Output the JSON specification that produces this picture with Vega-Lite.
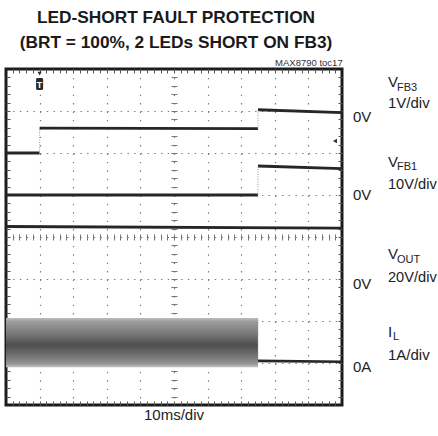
{
  "$schema": "https://vega.github.io/schema/vega-lite/v6.json",
  "width": 336,
  "height": 336,
  "autosize": {"type": "none"},
  "padding": {"left": 6, "top": 69, "right": 96, "bottom": 31},
  "background": "white",
  "config": {"view": {"stroke": "#1c1c1c", "strokeWidth": 3}, "font": "Liberation Sans"},
  "data": {"values": [{"note": "annotation anchor"}]},
  "datasets": {
    "traces": [
      {"series": "VFB3", "seg": "VFB3a", "t": 0, "v": 6.0},
      {"series": "VFB3", "seg": "VFB3a", "t": 10, "v": 6.0},
      {"series": "VFB3", "seg": "VFB3b", "t": 10, "v": 6.59},
      {"series": "VFB3", "seg": "VFB3b", "t": 75, "v": 6.58},
      {"series": "VFB3", "seg": "VFB3c", "t": 75, "v": 7.03},
      {"series": "VFB3", "seg": "VFB3c", "t": 100, "v": 6.96},
      {"series": "VFB1", "seg": "VFB1a", "t": 0, "v": 5.0},
      {"series": "VFB1", "seg": "VFB1a", "t": 75, "v": 5.0},
      {"series": "VFB1", "seg": "VFB1b", "t": 75, "v": 5.69},
      {"series": "VFB1", "seg": "VFB1b", "t": 100, "v": 5.63},
      {"series": "VOUT", "seg": "VOUTa", "t": 0, "v": 4.25},
      {"series": "VOUT", "seg": "VOUTa", "t": 100, "v": 4.21}
    ],
    "ilAfter": [
      {"series": "IL", "t": 75, "v": 1.05},
      {"series": "IL", "t": 100, "v": 1.03}
    ],
    "ilBand": [
      {"series": "IL", "t0": 0, "t1": 75, "lo": 0.9, "hi": 2.07}
    ],
    "steps": [
      {"series": "VFB3", "t": 10, "from": 6.0, "to": 6.59},
      {"series": "VFB3", "t": 75, "from": 6.58, "to": 7.03},
      {"series": "VFB1", "t": 75, "from": 5.0, "to": 5.69},
      {"series": "IL", "t": 75, "from": 1.05, "to": 2.07}
    ]
  },
  "resolve": {"axis": {"x": "independent", "y": "independent"}},
  "layer": [
    {
      "data": {"name": "traces"},
      "mark": {"type": "line", "stroke": "#262626", "strokeWidth": 2.8},
      "encoding": {
        "x": {"field": "t", "type": "quantitative", "scale": {"domain": [0, 100], "nice": false, "zero": false},
          "axis": {"orient": "bottom", "grid": true, "values": [10, 20, 30, 40, 50, 60, 70, 80, 90], "gridDash": [1.4, 7], "gridColor": "#7a7a7a", "gridWidth": 1.2, "ticks": false, "labels": false, "domain": false, "title": null}},
        "y": {"field": "v", "type": "quantitative", "scale": {"domain": [0, 8], "nice": false, "zero": false},
          "axis": {"orient": "left", "grid": true, "values": [1, 2, 3, 4, 5, 6, 7], "gridDash": [1.4, 5.32], "gridColor": "#7a7a7a", "gridWidth": 1.2, "ticks": false, "labels": false, "domain": false, "title": null}},
        "detail": {"field": "seg"}
      }
    },
    {
      "data": {"name": "ilBand"},
      "mark": {"type": "rect", "color": {"gradient": "linear", "x1": 0, "y1": 0, "x2": 0, "y2": 1, "stops": [
        {"offset": 0, "color": "#bdbdbd"}, {"offset": 0.08, "color": "#9a9a9a"}, {"offset": 0.3, "color": "#7c7c7c"},
        {"offset": 0.55, "color": "#4e4e4e"}, {"offset": 0.78, "color": "#747474"}, {"offset": 0.93, "color": "#959595"}, {"offset": 1, "color": "#c2c2c2"}]}},
      "encoding": {
        "x": {"field": "t0", "type": "quantitative", "scale": {"domain": [0, 100], "nice": false, "zero": false},
          "axis": {"orient": "bottom", "values": [2,4,6,8,10,12,14,16,18,20,22,24,26,28,30,32,34,36,38,40,42,44,46,48,50,52,54,56,58,60,62,64,66,68,70,72,74,76,78,80,82,84,86,88,90,92,94,96,98], "tickSize": -4, "tickColor": "#555", "labels": false, "domain": false, "grid": false, "title": null}},
        "x2": {"field": "t1"},
        "y": {"field": "lo", "type": "quantitative", "scale": {"domain": [0, 8], "nice": false, "zero": false},
          "axis": {"orient": "left", "values": [0.2,0.4,0.6,0.8,1,1.2,1.4,1.6,1.8,2,2.2,2.4,2.6,2.8,3,3.2,3.4,3.6,3.8,4,4.2,4.4,4.6,4.8,5,5.2,5.4,5.6,5.8,6,6.2,6.4,6.6,6.8,7,7.2,7.4,7.6,7.8], "tickSize": -4, "tickColor": "#555", "labels": false, "domain": false, "grid": false, "title": null}},
        "y2": {"field": "hi"}
      }
    },
    {
      "data": {"name": "steps"},
      "mark": {"type": "rule", "stroke": "#9a9a9a", "strokeWidth": 1, "strokeDash": [1, 1.5]},
      "encoding": {
        "x": {"field": "t", "type": "quantitative", "scale": {"domain": [0, 100], "nice": false, "zero": false},
          "axis": {"orient": "top", "values": [2,4,6,8,10,12,14,16,18,20,22,24,26,28,30,32,34,36,38,40,42,44,46,48,50,52,54,56,58,60,62,64,66,68,70,72,74,76,78,80,82,84,86,88,90,92,94,96,98], "tickSize": -4, "tickColor": "#555", "labels": false, "domain": false, "grid": false, "title": null}},
        "y": {"field": "from", "type": "quantitative", "scale": {"domain": [0, 8], "nice": false, "zero": false},
          "axis": {"orient": "right", "values": [0.2,0.4,0.6,0.8,1,1.2,1.4,1.6,1.8,2,2.2,2.4,2.6,2.8,3,3.2,3.4,3.6,3.8,4,4.2,4.4,4.6,4.8,5,5.2,5.4,5.6,5.8,6,6.2,6.4,6.6,6.8,7,7.2,7.4,7.6,7.8], "tickSize": -4, "tickColor": "#555", "labels": false, "domain": false, "grid": false, "title": null}},
        "y2": {"field": "to"}
      }
    },
    {
      "data": {"name": "ilAfter"},
      "mark": {"type": "line", "stroke": "#262626", "strokeWidth": 2.6},
      "encoding": {
        "x": {"field": "t", "type": "quantitative", "scale": {"domain": [0, 100], "nice": false, "zero": false},
          "axis": {"orient": "bottom", "offset": -171, "values": [2,4,6,8,10,12,14,16,18,20,22,24,26,28,30,32,34,36,38,40,42,44,46,48,50,52,54,56,58,60,62,64,66,68,70,72,74,76,78,80,82,84,86,88,90,92,94,96,98], "tickSize": 6, "tickColor": "#777", "labels": false, "domain": false, "grid": false, "title": null}},
        "y": {"field": "v", "type": "quantitative", "scale": {"domain": [0, 8], "nice": false, "zero": false},
          "axis": {"orient": "left", "offset": -171, "values": [0.2,0.4,0.6,0.8,1,1.2,1.4,1.6,1.8,2,2.2,2.4,2.6,2.8,3,3.2,3.4,3.6,3.8,4,4.2,4.4,4.6,4.8,5,5.2,5.4,5.6,5.8,6,6.2,6.4,6.6,6.8,7,7.2,7.4,7.6,7.8], "tickSize": 6, "tickColor": "#777", "labels": false, "domain": false, "grid": false, "title": null}}
      }
    },
    {
      "mark": {"type": "point", "shape": "triangle-down", "filled": true, "size": 18, "color": "#333", "opacity": 1},
      "encoding": {
        "x": {"datum": 10, "type": "quantitative", "scale": {"domain": [0, 100], "nice": false, "zero": false}, "axis": null},
        "y": {"datum": 7.89, "type": "quantitative", "scale": {"domain": [0, 8], "nice": false, "zero": false}, "axis": null}
      }
    },
    {
      "mark": {"type": "rect", "color": "#2a2a2a", "cornerRadius": 1.5},
      "encoding": {
        "x": {"datum": 8.95, "type": "quantitative", "scale": {"domain": [0, 100], "nice": false, "zero": false}, "axis": null},
        "x2": {"datum": 11.05},
        "y": {"datum": 7.5, "type": "quantitative", "scale": {"domain": [0, 8], "nice": false, "zero": false}, "axis": null},
        "y2": {"datum": 7.786}
      }
    },
    {
      "mark": {"type": "text", "align": "center", "baseline": "alphabetic", "fontSize": 9, "fontWeight": "bold", "fill": "white"},
      "encoding": {
        "x": {"datum": 10, "type": "quantitative", "scale": {"domain": [0, 100], "nice": false, "zero": false}, "axis": null},
        "y": {"datum": 7.55, "type": "quantitative", "scale": {"domain": [0, 8], "nice": false, "zero": false}, "axis": null},
        "text": {"value": "T"}
      }
    },
    {
      "mark": {"type": "point", "shape": "triangle-left", "filled": true, "size": 22, "color": "#333", "opacity": 1},
      "encoding": {
        "x": {"datum": 97.9, "type": "quantitative", "scale": {"domain": [0, 100], "nice": false, "zero": false}, "axis": null},
        "y": {"datum": 6.286, "type": "quantitative", "scale": {"domain": [0, 8], "nice": false, "zero": false}, "axis": null}
      }
    },
    {
      "mark": {"type": "text", "align": "center", "baseline": "alphabetic", "fontSize": 17.3, "fontWeight": "bold", "fill": "#1a1a1a"},
      "encoding": {
        "x": {"datum": 50.6, "type": "quantitative", "scale": {"domain": [0, 100], "nice": false, "zero": false}, "axis": null},
        "y": {"datum": 9.095, "type": "quantitative", "scale": {"domain": [0, 8], "nice": false, "zero": false}, "axis": null},
        "text": {"value": "LED-SHORT FAULT PROTECTION"}
      }
    },
    {
      "mark": {"type": "text", "align": "center", "baseline": "alphabetic", "fontSize": 17.3, "fontWeight": "bold", "fill": "#1a1a1a"},
      "encoding": {
        "x": {"datum": 50.6, "type": "quantitative", "scale": {"domain": [0, 100], "nice": false, "zero": false}, "axis": null},
        "y": {"datum": 8.5, "type": "quantitative", "scale": {"domain": [0, 8], "nice": false, "zero": false}, "axis": null},
        "text": {"value": "(BRT = 100%, 2 LEDs SHORT ON FB3)"}
      }
    },
    {
      "mark": {"type": "text", "align": "right", "baseline": "alphabetic", "fontSize": 9.5, "fill": "#333"},
      "encoding": {
        "x": {"datum": 100.2, "type": "quantitative", "scale": {"domain": [0, 100], "nice": false, "zero": false}, "axis": null},
        "y": {"datum": 8.083, "type": "quantitative", "scale": {"domain": [0, 8], "nice": false, "zero": false}, "axis": null},
        "text": {"value": "MAX8790 toc17"}
      }
    },
    {
      "mark": {"type": "text", "align": "center", "baseline": "alphabetic", "fontSize": 15, "fill": "#222"},
      "encoding": {
        "x": {"datum": 50, "type": "quantitative", "scale": {"domain": [0, 100], "nice": false, "zero": false}, "axis": null},
        "y": {"datum": -0.357, "type": "quantitative", "scale": {"domain": [0, 8], "nice": false, "zero": false}, "axis": null},
        "text": {"value": "10ms/div"}
      }
    },
    {
      "mark": {"type": "text", "align": "left", "baseline": "alphabetic", "fontSize": 15, "fill": "#222"},
      "encoding": {
        "x": {"datum": 113.69, "type": "quantitative", "scale": {"domain": [0, 100], "nice": false, "zero": false}, "axis": null},
        "y": {"datum": 7.571, "type": "quantitative", "scale": {"domain": [0, 8], "nice": false, "zero": false}, "axis": null},
        "text": {"value": "V"}
      }
    },
    {
      "mark": {"type": "text", "align": "left", "baseline": "alphabetic", "fontSize": 11, "fill": "#222"},
      "encoding": {
        "x": {"datum": 116.37, "type": "quantitative", "scale": {"domain": [0, 100], "nice": false, "zero": false}, "axis": null},
        "y": {"datum": 7.476, "type": "quantitative", "scale": {"domain": [0, 8], "nice": false, "zero": false}, "axis": null},
        "text": {"value": "FB3"}
      }
    },
    {
      "mark": {"type": "text", "align": "left", "baseline": "alphabetic", "fontSize": 15, "fill": "#222"},
      "encoding": {
        "x": {"datum": 113.69, "type": "quantitative", "scale": {"domain": [0, 100], "nice": false, "zero": false}, "axis": null},
        "y": {"datum": 7.071, "type": "quantitative", "scale": {"domain": [0, 8], "nice": false, "zero": false}, "axis": null},
        "text": {"value": "1V/div"}
      }
    },
    {
      "mark": {"type": "text", "align": "left", "baseline": "alphabetic", "fontSize": 15, "fill": "#222"},
      "encoding": {
        "x": {"datum": 103.27, "type": "quantitative", "scale": {"domain": [0, 100], "nice": false, "zero": false}, "axis": null},
        "y": {"datum": 6.738, "type": "quantitative", "scale": {"domain": [0, 8], "nice": false, "zero": false}, "axis": null},
        "text": {"value": "0V"}
      }
    },
    {
      "mark": {"type": "text", "align": "left", "baseline": "alphabetic", "fontSize": 15, "fill": "#222"},
      "encoding": {
        "x": {"datum": 113.69, "type": "quantitative", "scale": {"domain": [0, 100], "nice": false, "zero": false}, "axis": null},
        "y": {"datum": 5.667, "type": "quantitative", "scale": {"domain": [0, 8], "nice": false, "zero": false}, "axis": null},
        "text": {"value": "V"}
      }
    },
    {
      "mark": {"type": "text", "align": "left", "baseline": "alphabetic", "fontSize": 11, "fill": "#222"},
      "encoding": {
        "x": {"datum": 116.37, "type": "quantitative", "scale": {"domain": [0, 100], "nice": false, "zero": false}, "axis": null},
        "y": {"datum": 5.595, "type": "quantitative", "scale": {"domain": [0, 8], "nice": false, "zero": false}, "axis": null},
        "text": {"value": "FB1"}
      }
    },
    {
      "mark": {"type": "text", "align": "left", "baseline": "alphabetic", "fontSize": 14.6, "fill": "#222"},
      "encoding": {
        "x": {"datum": 113.69, "type": "quantitative", "scale": {"domain": [0, 100], "nice": false, "zero": false}, "axis": null},
        "y": {"datum": 5.143, "type": "quantitative", "scale": {"domain": [0, 8], "nice": false, "zero": false}, "axis": null},
        "text": {"value": "10V/div"}
      }
    },
    {
      "mark": {"type": "text", "align": "left", "baseline": "alphabetic", "fontSize": 15, "fill": "#222"},
      "encoding": {
        "x": {"datum": 103.27, "type": "quantitative", "scale": {"domain": [0, 100], "nice": false, "zero": false}, "axis": null},
        "y": {"datum": 4.881, "type": "quantitative", "scale": {"domain": [0, 8], "nice": false, "zero": false}, "axis": null},
        "text": {"value": "0V"}
      }
    },
    {
      "mark": {"type": "text", "align": "left", "baseline": "alphabetic", "fontSize": 15, "fill": "#222"},
      "encoding": {
        "x": {"datum": 113.69, "type": "quantitative", "scale": {"domain": [0, 100], "nice": false, "zero": false}, "axis": null},
        "y": {"datum": 3.476, "type": "quantitative", "scale": {"domain": [0, 8], "nice": false, "zero": false}, "axis": null},
        "text": {"value": "V"}
      }
    },
    {
      "mark": {"type": "text", "align": "left", "baseline": "alphabetic", "fontSize": 11, "fill": "#222"},
      "encoding": {
        "x": {"datum": 116.37, "type": "quantitative", "scale": {"domain": [0, 100], "nice": false, "zero": false}, "axis": null},
        "y": {"datum": 3.381, "type": "quantitative", "scale": {"domain": [0, 8], "nice": false, "zero": false}, "axis": null},
        "text": {"value": "OUT"}
      }
    },
    {
      "mark": {"type": "text", "align": "left", "baseline": "alphabetic", "fontSize": 14.6, "fill": "#222"},
      "encoding": {
        "x": {"datum": 113.69, "type": "quantitative", "scale": {"domain": [0, 100], "nice": false, "zero": false}, "axis": null},
        "y": {"datum": 2.929, "type": "quantitative", "scale": {"domain": [0, 8], "nice": false, "zero": false}, "axis": null},
        "text": {"value": "20V/div"}
      }
    },
    {
      "mark": {"type": "text", "align": "left", "baseline": "alphabetic", "fontSize": 15, "fill": "#222"},
      "encoding": {
        "x": {"datum": 103.27, "type": "quantitative", "scale": {"domain": [0, 100], "nice": false, "zero": false}, "axis": null},
        "y": {"datum": 2.762, "type": "quantitative", "scale": {"domain": [0, 8], "nice": false, "zero": false}, "axis": null},
        "text": {"value": "0V"}
      }
    },
    {
      "mark": {"type": "text", "align": "left", "baseline": "alphabetic", "fontSize": 15, "fill": "#222"},
      "encoding": {
        "x": {"datum": 113.69, "type": "quantitative", "scale": {"domain": [0, 100], "nice": false, "zero": false}, "axis": null},
        "y": {"datum": 1.619, "type": "quantitative", "scale": {"domain": [0, 8], "nice": false, "zero": false}, "axis": null},
        "text": {"value": "I"}
      }
    },
    {
      "mark": {"type": "text", "align": "left", "baseline": "alphabetic", "fontSize": 11, "fill": "#222"},
      "encoding": {
        "x": {"datum": 115.18, "type": "quantitative", "scale": {"domain": [0, 100], "nice": false, "zero": false}, "axis": null},
        "y": {"datum": 1.548, "type": "quantitative", "scale": {"domain": [0, 8], "nice": false, "zero": false}, "axis": null},
        "text": {"value": "L"}
      }
    },
    {
      "mark": {"type": "text", "align": "left", "baseline": "alphabetic", "fontSize": 15, "fill": "#222"},
      "encoding": {
        "x": {"datum": 113.69, "type": "quantitative", "scale": {"domain": [0, 100], "nice": false, "zero": false}, "axis": null},
        "y": {"datum": 1.071, "type": "quantitative", "scale": {"domain": [0, 8], "nice": false, "zero": false}, "axis": null},
        "text": {"value": "1A/div"}
      }
    },
    {
      "mark": {"type": "text", "align": "left", "baseline": "alphabetic", "fontSize": 15, "fill": "#222"},
      "encoding": {
        "x": {"datum": 103.27, "type": "quantitative", "scale": {"domain": [0, 100], "nice": false, "zero": false}, "axis": null},
        "y": {"datum": 0.786, "type": "quantitative", "scale": {"domain": [0, 8], "nice": false, "zero": false}, "axis": null},
        "text": {"value": "0A"}
      }
    }
  ]
}
